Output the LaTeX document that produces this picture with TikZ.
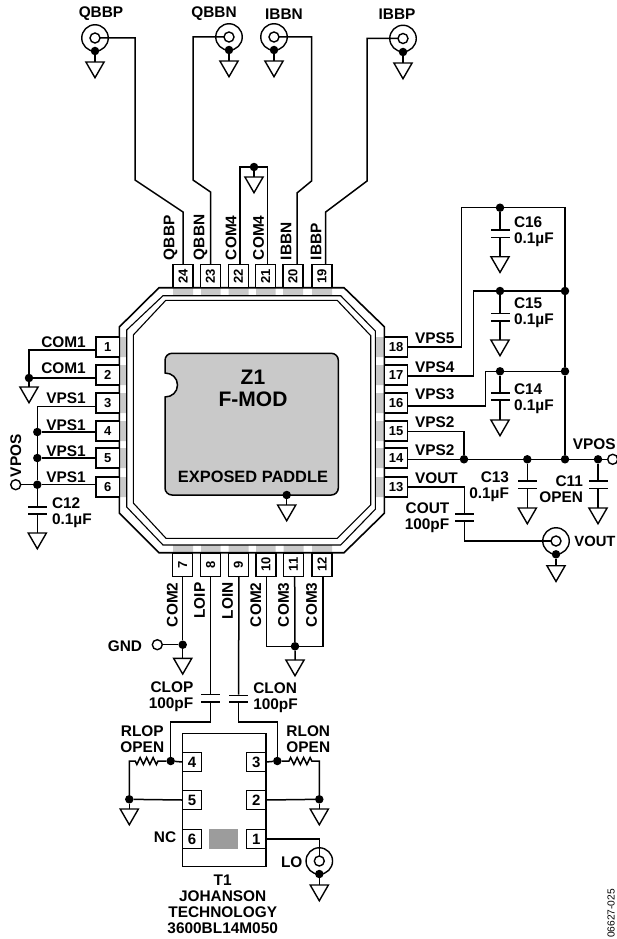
\documentclass[tikz,border=0pt]{standalone}
\usepackage{fontspec}
\setmainfont{Liberation Sans}
\usepackage{xcolor}
\usetikzlibrary{shapes.geometric, decorations.pathmorphing}

\definecolor{padgray}{HTML}{C9C9C9}
\definecolor{chipgray}{HTML}{9C9C9C}
\newcommand{\lblfont}{\bfseries\fontsize{15.4}{16}\selectfont}

\tikzset{
    wire/.style={line width=1.5pt},
    lbl/.style={font=\lblfont, inner sep=0pt, outer sep=0pt},
    lblup/.style={lbl, rotate=90, anchor=west},
    lbldown/.style={lbl, rotate=90, anchor=east},
    pinbox/.style={draw, line width=1.4pt, fill=white, minimum width=23.3pt, minimum height=20pt, inner sep=0pt, outer sep=0pt, font=\bfseries\fontsize{13}{13}\selectfont},
    pinup/.style={pinbox, rotate=90},
    tpin/.style={draw, line width=1.4pt, fill=white, minimum size=19.5pt, inner sep=0pt, outer sep=0pt, font=\bfseries\fontsize{15}{15}\selectfont},
    junc/.style={circle, fill=black, minimum size=8.5pt, inner sep=0pt, outer sep=0pt},
    opn/.style={circle, draw, line width=1.4pt, fill=white, minimum size=10pt, inner sep=0pt, outer sep=0pt},
    bnc/.style={circle, draw, line width=1.4pt, minimum size=26.5pt, inner sep=0pt, outer sep=0pt},
    gnd/.style={regular polygon, regular polygon sides=3, shape border rotate=180, draw, line width=1.4pt, minimum size=21pt, inner sep=0pt, outer sep=0pt, anchor=north},
    plate/.style={fill=black, minimum width=19pt, minimum height=1.6pt, inner sep=0pt, outer sep=0pt}
}

\begin{document}
\begin{tikzpicture}[x=1pt, y=-1pt]
    \useasboundingbox (0,0) rectangle (616,939);

    % package
    \fill[padgray] (173,287.7) rectangle ++(20,8) (201,287.7) rectangle ++(19.5,8) (228.5,287.7) rectangle ++(20,8)
        (256,287.7) rectangle ++(19.5,8) (283,287.7) rectangle ++(20,8) (312,287.7) rectangle ++(20,8);
    \fill[padgray] (173,545) rectangle ++(20,7.7) (201,545) rectangle ++(19.5,7.7) (228.5,545) rectangle ++(20,7.7)
        (256,545) rectangle ++(19.5,7.7) (283.5,545) rectangle ++(20,7.7) (312,545) rectangle ++(20,7.7);
    \fill[padgray] (119.3,337) rectangle ++(7.4,20) (119.3,365) rectangle ++(7.4,20) (119.3,393) rectangle ++(7.4,20)
        (119.3,421) rectangle ++(7.4,20) (119.3,448) rectangle ++(7.4,20) (119.3,477) rectangle ++(7.4,20);
    \fill[padgray] (375.3,337) rectangle ++(9,20) (375.3,365) rectangle ++(9,20) (375.3,393) rectangle ++(9,20)
        (375.3,421) rectangle ++(9,20) (375.3,448) rectangle ++(9,20) (375.3,477) rectangle ++(9,20);
    \draw[line width=1.6pt] (159,287.7) -- (344,287.7) -- (384.3,326.7) -- (384.3,513.3) -- (344,552.7) -- (159,552.7) -- (119.3,513) -- (119.3,327) -- cycle;
    \draw[line width=1.1pt] (163,295.7) -- (340.7,295.7) -- (375.3,331) -- (375.3,509.3) -- (340.7,545) -- (163,545) -- (126.7,507) -- (126.7,330) -- cycle;
    \draw[line width=1.1pt] (165.7,300.4) -- (337.3,300.4) -- (370.7,335.7) -- (370.7,505) -- (337.3,538.3) -- (166,538.3) -- (133.3,503) -- (133.3,335) -- cycle;
    \draw[wire, fill=padgray] (165,373) [rounded corners=7pt] -- (165,353.3) -- (338.3,353.3) -- (338.3,495) -- (165,495) [sharp corners] -- (165,397)
        .. controls (172,397) and (177.5,392) .. (177.5,385) .. controls (177.5,378) and (172,373) .. (165,373) -- cycle;
    \node[lbl, font=\bfseries\fontsize{21}{22}\selectfont, align=center] (z1) at (253,388.5) {Z1\\F-MOD};
    \node[lbl, font=\bfseries\fontsize{16.4}{16}\selectfont] (ep) at (253,477) {EXPOSED PADDLE};
    \node[junc] (jep) at (286.7,495) {};
    \node[gnd] (gep) at (286.7,505) {};
    \draw[wire] (jep) -- (gep.north);

    % pins
    \node[pinbox] (p1) at (107.7,347) {1};
    \node[pinbox] (p2) at (107.7,375) {2};
    \node[pinbox] (p3) at (107.7,403) {3};
    \node[pinbox] (p4) at (107.7,431) {4};
    \node[pinbox] (p5) at (107.7,458) {5};
    \node[pinbox] (p6) at (107.7,487) {6};
    \node[pinup] (p7) at (182.7,564.6) {7};
    \node[pinup] (p8) at (210.7,564.6) {8};
    \node[pinup] (p9) at (238.3,564.6) {9};
    \node[pinup] (p10) at (266,564.6) {10};
    \node[pinup] (p11) at (293.5,564.6) {11};
    \node[pinup] (p12) at (322,564.6) {12};
    \node[pinbox] (p13) at (396,487) {13};
    \node[pinbox] (p14) at (396,458) {14};
    \node[pinbox] (p15) at (396,431) {15};
    \node[pinbox] (p16) at (396,403) {16};
    \node[pinbox] (p17) at (396,375) {17};
    \node[pinbox] (p18) at (396,347) {18};
    \node[pinup] (p19) at (322,276) {19};
    \node[pinup] (p20) at (293,276) {20};
    \node[pinup] (p21) at (265.7,276) {21};
    \node[pinup] (p22) at (238.3,276) {22};
    \node[pinup] (p23) at (210.5,276) {23};
    \node[pinup] (p24) at (183,276) {24};

    % pin labels
    \node[lblup] (l24) at (170.5,260) {QBBP};
    \node[lblup] (l23) at (200.5,260) {QBBN};
    \node[lblup] (l22) at (231,260) {COM4};
    \node[lblup] (l21) at (258.5,260) {COM4};
    \node[lblup] (l20) at (286,260) {IBBN};
    \node[lblup] (l19) at (316,260) {IBBP};
    \node[lbl] (l1) at (63.5,342) {COM1};
    \node[lbl] (l2) at (63.5,368) {COM1};
    \node[lbl] (l3) at (66,398) {VPS1};
    \node[lbl] (l4) at (66,425) {VPS1};
    \node[lbl] (l5) at (66,451) {VPS1};
    \node[lbl] (l6) at (66,477) {VPS1};
    \node[lbldown] (l7) at (172.3,582.5) {COM2};
    \node[lbldown] (l8) at (199.5,582.5) {LOIP};
    \node[lbldown] (l9) at (227.5,582.5) {LOIN};
    \node[lbldown] (l10) at (255.7,582.5) {COM2};
    \node[lbldown] (l11) at (283.7,582.5) {COM3};
    \node[lbldown] (l12) at (311.7,582.5) {COM3};
    \node[lbl, anchor=west] (l18) at (415,338.3) {VPS5};
    \node[lbl, anchor=west] (l17) at (415,366.7) {VPS4};
    \node[lbl, anchor=west] (l16) at (415,394.3) {VPS3};
    \node[lbl, anchor=west] (l15) at (415,422.3) {VPS2};
    \node[lbl, anchor=west] (l14) at (415,450) {VPS2};
    \node[lbl, anchor=west] (l13) at (415,478.3) {VOUT};

    % baseband connectors
    \node[lbl] (tq) at (101,14) {QBBP};
    \node[bnc] (qpo) at (95,38) {};
    \node[opn] (qpi) at (95,38) {};
    \node[junc] (qpj) at (95,51) {};
    \node[gnd] (qpg) at (95,62) {};
    \node[lbl] (tqn) at (214,14) {QBBN};
    \node[bnc] (qno) at (229,37) {};
    \node[opn] (qni) at (229,37) {};
    \node[junc] (qnj) at (229,50) {};
    \node[gnd] (qng) at (229,61) {};
    \node[lbl] (tin) at (284,14) {IBBN};
    \node[bnc] (ino) at (274,37) {};
    \node[opn] (ini) at (274,37) {};
    \node[junc] (inj) at (274,50) {};
    \node[gnd] (ing) at (274,61) {};
    \node[lbl] (tip) at (397,14) {IBBP};
    \node[bnc] (ipo) at (403,38.5) {};
    \node[opn] (ipi) at (403,38.5) {};
    \node[junc] (ipj) at (403,52) {};
    \node[gnd] (ipg) at (403,63) {};

    \draw[wire] (qpi) -- (135,38) -- (135,180) -- (183,212) -- (p24.east);
    \draw[wire] (qni) -- (193,37) -- (193,180) -- (210.5,192) -- (p23.east);
    \draw[wire] (ini) -- (311.5,37) -- (311.5,181) -- (297,193) -- (297,264);
    \draw[wire] (ipi) -- (367,38.5) -- (367,181) -- (325.7,212) -- (325.7,264);
    \draw[wire] (qpj) -- (qpg.north);
    \draw[wire] (qnj) -- (qng.north);
    \draw[wire] (inj) -- (ing.north);
    \draw[wire] (ipj) -- (ipg.north);

    % COM4
    \node[junc] (jc4) at (254,167) {};
    \node[gnd] (gc4) at (254,177) {};
    \draw[wire] (240,264) -- (240,167) -- (267.7,167) -- (267.7,264);
    \draw[wire] (jc4) -- (gc4.north);

    % COM1 and VPS1
    \node[junc] (jc1) at (29,378) {};
    \node[gnd] (gc1) at (29,387) {};
    \draw[wire] ([yshift=-3pt]p1.west) -- (29,350) -- (jc1);
    \draw[wire] ([yshift=-3pt]p2.west) -- (jc1);
    \draw[wire] (jc1) -- (gc1.north);
    \node[junc] (jv4) at (37.3,432) {};
    \node[junc] (jv5) at (37.3,458) {};
    \node[junc] (jv6) at (37.3,484.7) {};
    \node[opn] (vl) at (15.7,484.7) {};
    \node[lblup] (tvl) at (15.7,477) {VPOS};
    \node[plate] (c12a) at (37.3,506.7) {};
    \node[plate] (c12b) at (37.3,514) {};
    \node[gnd] (g12) at (37.3,533) {};
    \node[lbl, align=left, anchor=west] (t12) at (52,512.7) {C12\\0.1µF};
    \draw[wire] ([yshift=-3.7pt]p3.west) -- (37.3,406.7) -- (jv4) -- (jv5) -- (jv6) -- (c12a);
    \draw[wire] ([yshift=-1pt]p4.west) -- (jv4);
    \draw[wire] (p5.west) -- (jv5);
    \draw[wire] (vl) -- (jv6) -- ([yshift=2.3pt]p6.west);
    \draw[wire] (c12b) -- (g12.north);

    % VPS2 to VPS5
    \node[junc] (j16) at (500,207.7) {};
    \node[plate] (c16a) at (500,230) {};
    \node[plate] (c16b) at (500,237.3) {};
    \node[gnd] (g16) at (500,256.7) {};
    \node[lbl, align=left, anchor=west] (t16) at (514,231.3) {C16\\0.1µF};
    \node[junc] (j15) at (500,291) {};
    \node[junc] (jr15) at (565,291) {};
    \node[plate] (c15a) at (500,313.3) {};
    \node[plate] (c15b) at (500,321) {};
    \node[gnd] (g15) at (500,340) {};
    \node[lbl, align=left, anchor=west] (t15) at (514,312.5) {C15\\0.1µF};
    \node[junc] (j14) at (500,371.3) {};
    \node[junc] (jr14) at (565,371.3) {};
    \node[plate] (c14a) at (500,393) {};
    \node[plate] (c14b) at (500,400) {};
    \node[gnd] (g14) at (500,420) {};
    \node[lbl, align=left, anchor=west] (t14) at (514,399) {C14\\0.1µF};
    \node[junc] (jv2) at (464,459.3) {};
    \node[junc] (j13) at (527.3,459.3) {};
    \node[junc] (jr13) at (565,459.3) {};
    \node[junc] (j11) at (598,459.3) {};
    \node[opn] (vr) at (612.7,459.3) {};
    \node[lbl, anchor=east] (tvr) at (615.7,444.3) {VPOS};
    \node[plate] (c13a) at (527.3,481) {};
    \node[plate] (c13b) at (527.3,488.3) {};
    \node[gnd] (g13) at (527.3,508) {};
    \node[lbl, align=right, anchor=east] (t13) at (509,487) {C13\\0.1µF};
    \node[plate] (c11a) at (598,481) {};
    \node[plate] (c11b) at (598,488.3) {};
    \node[gnd] (g11) at (598,508) {};
    \node[lbl, align=right, anchor=east] (t11) at (583,489.5) {C11\\OPEN};

    \draw[wire] (p18.east) -- (461.7,347) -- (461.7,207.7) -- (565,207.7) -- (jr15) -- (jr14) -- (jr13);
    \draw[wire] ([yshift=-1pt]p17.east) -- (473.3,376) -- (473.3,291) -- (jr15);
    \draw[wire] ([yshift=-3pt]p16.east) -- (485.7,406) -- (485.7,371.3) -- (jr14);
    \draw[wire] ([yshift=-0.7pt]p15.east) -- (464,431.7) -- (jv2);
    \draw[wire] ([yshift=-1.3pt]p14.east) -- (vr);
    \draw[wire] (j16) -- (c16a);
    \draw[wire] (c16b) -- (g16.north);
    \draw[wire] (j15) -- (c15a);
    \draw[wire] (c15b) -- (g15.north);
    \draw[wire] (j14) -- (c14a);
    \draw[wire] (c14b) -- (g14.north);
    \draw[wire] (j13) -- (c13a);
    \draw[wire] (c13b) -- (g13.north);
    \draw[wire] (j11) -- (c11a);
    \draw[wire] (c11b) -- (g11.north);

    % VOUT
    \node[plate] (couta) at (464.3,513.7) {};
    \node[plate] (coutb) at (464.3,521) {};
    \node[lbl, align=right, anchor=east] (tc) at (449.3,518) {COUT\\100pF};
    \node[bnc] (voo) at (556,541) {};
    \node[opn] (voi) at (556,541) {};
    \node[junc] (voj) at (556,554.3) {};
    \node[gnd] (vog) at (556,565.7) {};
    \node[lbl, font=\bfseries\fontsize{14.8}{16}\selectfont, anchor=east] (tvo) at (615.5,541) {VOUT};
    \draw[wire] (p13.east) -- (464.3,487) -- (couta);
    \draw[wire] (coutb) -- (464.3,541) -- (voi);
    \draw[wire] (voj) -- (vog.north);

    % GND and COM2, COM3
    \node[junc] (jg) at (182.7,644.7) {};
    \node[opn] (og) at (157.3,644.7) {};
    \node[lbl] (tg) at (125,645.7) {GND};
    \node[gnd] (g7) at (182.7,658.3) {};
    \draw[wire] (p7.west) -- (jg) -- (g7.north);
    \draw[wire] (og) -- (jg);
    \node[junc] (jc3) at (295,646.3) {};
    \node[gnd] (gc3) at (295,660) {};
    \draw[wire] ([xshift=0.7pt]p10.west) -- (266.7,646.3) -- (323,646.3) -- ([xshift=1pt]p12.west);
    \draw[wire] ([xshift=1.2pt]p11.west) -- (jc3) -- (gc3.north);

    % balun
    \node[draw, line width=1.4pt, minimum width=83.7pt, minimum height=133.4pt, inner sep=0pt, outer sep=0pt] (t1) at (224.2,800) {};
    \node[tpin] (t4) at (192,762) {4};
    \node[tpin] (t5) at (192,800) {5};
    \node[tpin] (t6) at (192,839) {6};
    \node[tpin] (t3) at (256.3,762) {3};
    \node[tpin] (t2) at (256.3,800) {2};
    \node[tpin] (t1p) at (256.3,839) {1};
    \node[fill=chipgray, minimum width=28.4pt, minimum height=20pt, inner sep=0pt, outer sep=0pt] (tc1) at (223.5,839) {};
    \node[lbl] (tnc) at (165,837.3) {NC};
    \node[lbl, align=center] (tt1) at (222.7,904.7) {T1\\JOHANSON\\TECHNOLOGY\\3600BL14M050};

    \node[plate] (clopa) at (210.7,694.3) {};
    \node[plate] (clopb) at (210.7,701.7) {};
    \node[lbl, align=right, anchor=east] (tclop) at (193.3,697) {CLOP\\100pF};
    \node[plate] (clona) at (238.7,695.3) {};
    \node[plate] (clonb) at (238.7,702) {};
    \node[lbl, align=left, anchor=west] (tclon) at (253.3,698) {CLON\\100pF};
    \node[junc] (jrl) at (170.7,761) {};
    \node[junc] (jrr) at (277.3,761) {};
    \node[junc] (jl5) at (129.3,799.3) {};
    \node[junc] (jr2) at (319.3,799.3) {};
    \node[gnd] (gl5) at (129.3,809) {};
    \node[gnd] (gr2) at (319.3,809) {};
    \node[lbl, align=center] (trl) at (142.3,739.2) {RLOP\\OPEN};
    \node[lbl, align=center] (trr) at (308.3,739.2) {RLON\\OPEN};
    \node[bnc] (loo) at (319.3,861) {};
    \node[opn] (loi) at (319.3,861) {};
    \node[junc] (loj) at (319.3,874) {};
    \node[gnd] (log) at (319.3,885) {};
    \node[lbl] (tlo) at (291.7,861.7) {LO};

    \draw[wire] (p8.west) -- (clopa);
    \draw[wire] (clopb) -- (210.7,722) -- (170.7,722) -- (jrl);
    \draw[wire] ([xshift=0.5pt]p9.west) -- (clona);
    \draw[wire] (clonb) -- (238.7,722) -- (277.3,722) -- (jrr);
    \draw[wire] (t4.west) -- (jrl) -- (158,761) decorate[decoration={zigzag, amplitude=3.5pt, segment length=6.5pt}] {-- (135,761)} -- (129.3,761) -- (jl5);
    \draw[wire] (t3.east) -- (jrr) -- (289,761) decorate[decoration={zigzag, amplitude=3.5pt, segment length=6.5pt}] {-- (312,761)} -- (319.3,761) -- (jr2);
    \draw[wire] (t5.west) -- (jl5);
    \draw[wire] (t2.east) -- (jr2);
    \draw[wire] (jl5) -- (gl5.north);
    \draw[wire] (jr2) -- (gr2.north);
    \draw[wire] (t1p.east) -- (319.3,839) -- (loi);
    \draw[wire] (loj) -- (log.north);

    \node[rotate=90, inner sep=0pt, font=\fontsize{10.2}{10}\selectfont] (code) at (611,913.5) {06627-025};
\end{tikzpicture}
\end{document}
